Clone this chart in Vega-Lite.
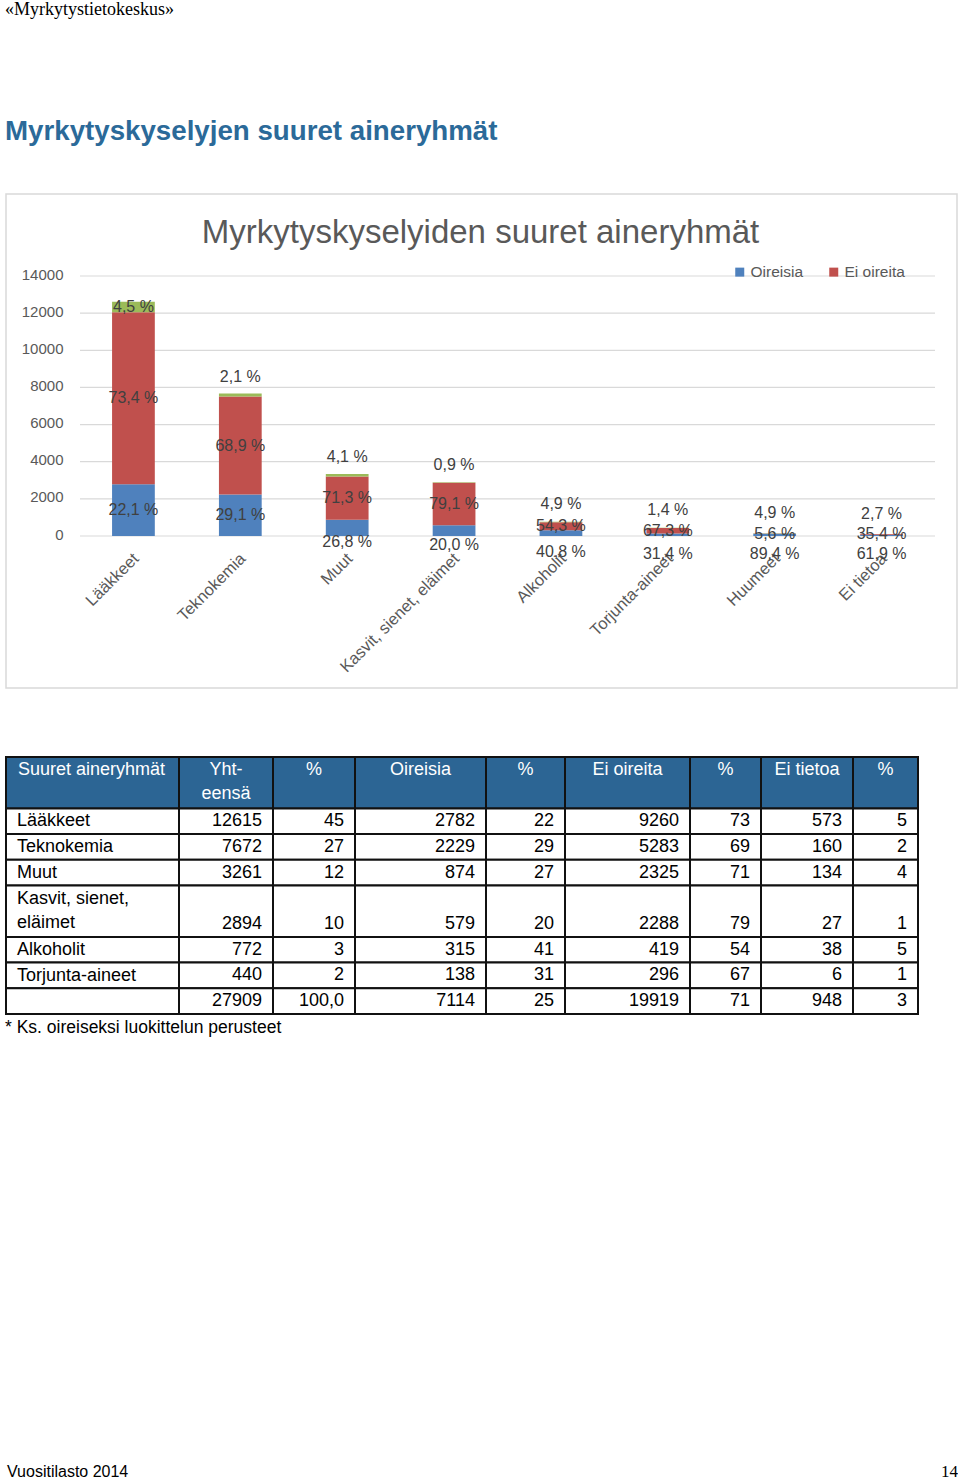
{
  "$schema": "https://vega.github.io/schema/vega-lite/v6.json",
  "background": "white",
  "padding": {"left": 5, "top": 0, "right": 0, "bottom": 0},
  "config": {"view": {"stroke": null}, "font": "Liberation Sans"},
  "title": {
    "text": "«Myrkytystietokeskus»",
    "subtitle": "Myrkytyskyselyjen suuret aineryhmät",
    "anchor": "start",
    "font": "Liberation Serif",
    "fontSize": 18,
    "fontWeight": "normal",
    "color": "#000000",
    "subtitleFont": "Liberation Sans",
    "subtitleFontSize": 27.7,
    "subtitleFontWeight": "bold",
    "subtitleColor": "#2b6a99",
    "subtitlePadding": 99,
    "offset": 48
  },
  "datasets": {
    "table": [
      {"r0": 0, "r1": 2, "c1": "Suuret aineryhmät", "c2": ["Yht-", "eensä"], "c3": "%", "c4": "Oireisia", "c5": "%", "c6": "Ei oireita", "c7": "%", "c8": "Ei tietoa", "c9": "%"},
      {"r0": 2, "r1": 3, "c1": "Lääkkeet", "c2": "12615", "c3": "45", "c4": "2782", "c5": "22", "c6": "9260", "c7": "73", "c8": "573", "c9": "5"},
      {"r0": 3, "r1": 4, "c1": "Teknokemia", "c2": "7672", "c3": "27", "c4": "2229", "c5": "29", "c6": "5283", "c7": "69", "c8": "160", "c9": "2"},
      {"r0": 4, "r1": 5, "c1": "Muut", "c2": "3261", "c3": "12", "c4": "874", "c5": "27", "c6": "2325", "c7": "71", "c8": "134", "c9": "4"},
      {"r0": 5, "r1": 7, "c1": ["Kasvit, sienet,", "eläimet"], "c2": "2894", "c3": "10", "c4": "579", "c5": "20", "c6": "2288", "c7": "79", "c8": "27", "c9": "1"},
      {"r0": 7, "r1": 8, "c1": "Alkoholit", "c2": "772", "c3": "3", "c4": "315", "c5": "41", "c6": "419", "c7": "54", "c8": "38", "c9": "5"},
      {"r0": 8, "r1": 9, "c1": "Torjunta-aineet", "c2": "440", "c3": "2", "c4": "138", "c5": "31", "c6": "296", "c7": "67", "c8": "6", "c9": "1"},
      {"r0": 9, "r1": 10, "c1": "", "c2": "27909", "c3": "100,0", "c4": "7114", "c5": "25", "c6": "19919", "c7": "71", "c8": "948", "c9": "3"}
    ]
  },
  "spacing": 67,
  "vconcat": [
    {
      "width": 951,
      "height": 494,
      "view": {"stroke": "#d9d9d9", "strokeWidth": 1.5},
      "data": {"values": [
        {"category": "Lääkkeet", "series": "Oireisia", "k": 1, "value": 2782, "label": "22,1 %"},
        {"category": "Lääkkeet", "series": "Ei oireita", "k": 2, "value": 9260, "label": "73,4 %"},
        {"category": "Lääkkeet", "series": "Ei tietoa", "k": 3, "value": 573, "label": "4,5 %"},
        {"category": "Teknokemia", "series": "Oireisia", "k": 1, "value": 2229, "label": "29,1 %"},
        {"category": "Teknokemia", "series": "Ei oireita", "k": 2, "value": 5283, "label": "68,9 %"},
        {"category": "Teknokemia", "series": "Ei tietoa", "k": 3, "value": 160, "label": "2,1 %"},
        {"category": "Muut", "series": "Oireisia", "k": 1, "value": 874, "label": "26,8 %"},
        {"category": "Muut", "series": "Ei oireita", "k": 2, "value": 2325, "label": "71,3 %"},
        {"category": "Muut", "series": "Ei tietoa", "k": 3, "value": 134, "label": "4,1 %"},
        {"category": "Kasvit, sienet, eläimet", "series": "Oireisia", "k": 1, "value": 579, "label": "20,0 %"},
        {"category": "Kasvit, sienet, eläimet", "series": "Ei oireita", "k": 2, "value": 2288, "label": "79,1 %"},
        {"category": "Kasvit, sienet, eläimet", "series": "Ei tietoa", "k": 3, "value": 27, "label": "0,9 %"},
        {"category": "Alkoholit", "series": "Oireisia", "k": 1, "value": 315, "label": "40,8 %"},
        {"category": "Alkoholit", "series": "Ei oireita", "k": 2, "value": 419, "label": "54,3 %"},
        {"category": "Alkoholit", "series": "Ei tietoa", "k": 3, "value": 38, "label": "4,9 %"},
        {"category": "Torjunta-aineet", "series": "Oireisia", "k": 1, "value": 138, "label": "31,4 %"},
        {"category": "Torjunta-aineet", "series": "Ei oireita", "k": 2, "value": 296, "label": "67,3 %"},
        {"category": "Torjunta-aineet", "series": "Ei tietoa", "k": 3, "value": 6, "label": "1,4 %"},
        {"category": "Huumeet", "series": "Oireisia", "k": 1, "value": 127, "label": "89,4 %"},
        {"category": "Huumeet", "series": "Ei oireita", "k": 2, "value": 8, "label": "5,6 %"},
        {"category": "Huumeet", "series": "Ei tietoa", "k": 3, "value": 7, "label": "4,9 %"},
        {"category": "Ei tietoa", "series": "Oireisia", "k": 1, "value": 70, "label": "61,9 %"},
        {"category": "Ei tietoa", "series": "Ei oireita", "k": 2, "value": 40, "label": "35,4 %"},
        {"category": "Ei tietoa", "series": "Ei tietoa", "k": 3, "value": 3, "label": "2,7 %"}
      ]},
      "title": {
        "text": "Myrkytyskyselyiden suuret aineryhmät",
        "fontSize": 33,
        "fontWeight": "normal",
        "font": "Liberation Sans",
        "color": "#595959",
        "anchor": "middle",
        "frame": "group",
        "dx": -1,
        "offset": -56
      },
      "resolve": {"scale": {"x": "independent"}},
      "layer": [
        {
          "data": {"values": [{"tick": 0}, {"tick": 2000}, {"tick": 4000}, {"tick": 6000}, {"tick": 8000}, {"tick": 10000}, {"tick": 12000}, {"tick": 14000}]},
          "mark": {"type": "rule", "color": "#d9d9d9", "strokeWidth": 1.2},
          "encoding": {
            "x": {"datum": 0, "type": "quantitative", "scale": {"domain": [0, 1], "range": [74, 929]}, "axis": null},
            "x2": {"datum": 1},
            "y": {"field": "tick", "type": "quantitative", "scale": {"domain": [0, 14000], "range": [342, 82]},
                  "axis": {"title": null, "values": [0, 2000, 4000, 6000, 8000, 10000, 12000, 14000], "format": "d", "grid": false, "domain": false, "ticks": false, "labelOverlap": false, "labelPadding": 0, "offset": -57, "labelOffset": -2, "labelFontSize": 15, "labelColor": "#595959", "labelFont": "Liberation Sans"}}
          }
        },
        {
          "layer": [
            {
              "mark": {"type": "bar"},
              "encoding": {
                "x": {
                  "field": "category", "type": "nominal", "sort": null,
                  "scale": {"domain": ["Lääkkeet", "Teknokemia", "Muut", "Kasvit, sienet, eläimet", "Alkoholit", "Torjunta-aineet", "Huumeet", "Ei tietoa"], "range": [74, 929], "paddingInner": 0.6, "paddingOuter": 0.3},
                  "axis": {"title": null, "offset": -152, "labelAngle": -45, "labelAlign": "right", "labelBaseline": "top", "labelPadding": 14, "labelOffset": -3, "domain": false, "ticks": false, "labelFontSize": 16.5, "labelColor": "#595959", "labelFont": "Liberation Sans", "labelLimit": 0}
                },
                "y": {
                  "field": "value", "type": "quantitative", "stack": "zero",
                  "scale": {"domain": [0, 14000], "range": [342, 82]},
                  "axis": {"title": null, "values": [0, 2000, 4000, 6000, 8000, 10000, 12000, 14000], "format": "d", "grid": false, "domain": false, "ticks": false, "labelOverlap": false, "labelPadding": 0, "offset": -57, "labelOffset": -2, "labelFontSize": 15, "labelColor": "#595959", "labelFont": "Liberation Sans"}
                },
                "color": {
                  "field": "series", "type": "nominal",
                  "scale": {"domain": ["Oireisia", "Ei oireita", "Ei tietoa"], "range": ["#4F81BD", "#C0504D", "#9BBB59"]},
                  "legend": {"title": null, "values": ["Oireisia", "Ei oireita"], "orient": "none", "legendX": 726, "legendY": 70, "direction": "horizontal", "symbolType": "square", "symbolSize": 81, "symbolStrokeWidth": 0, "labelFontSize": 15.5, "labelColor": "#595959", "labelFont": "Liberation Sans", "columnPadding": 22, "labelOffset": 3, "padding": 0}
                },
                "order": {"field": "k", "type": "quantitative", "sort": "ascending"}
              }
            },
            {
              "transform": [
                {"stack": "value", "groupby": ["category"], "sort": [{"field": "k", "order": "ascending"}], "as": ["s0", "s1"]},
                {"fold": ["s0", "s1"], "as": ["edge", "pos"]},
                {"aggregate": [{"op": "mean", "field": "pos", "as": "mid"}], "groupby": ["category", "series", "label"]}
              ],
              "encoding": {
                "x": {"field": "category", "type": "nominal", "sort": null,
                      "scale": {"domain": ["Lääkkeet", "Teknokemia", "Muut", "Kasvit, sienet, eläimet", "Alkoholit", "Torjunta-aineet", "Huumeet", "Ei tietoa"], "range": [74, 929], "paddingInner": 0.6, "paddingOuter": 0.3},
                      "axis": {"title": null, "offset": -152, "labelAngle": -45, "labelAlign": "right", "labelBaseline": "top", "labelPadding": 14, "labelOffset": -3, "domain": false, "ticks": false, "labelFontSize": 16.5, "labelColor": "#595959", "labelFont": "Liberation Sans", "labelLimit": 0}},
                "y": {"field": "mid", "type": "quantitative", "scale": {"domain": [0, 14000], "range": [342, 82]},
                      "axis": {"title": null, "values": [0, 2000, 4000, 6000, 8000, 10000, 12000, 14000], "format": "d", "grid": false, "domain": false, "ticks": false, "labelOverlap": false, "labelPadding": 0, "offset": -57, "labelOffset": -2, "labelFontSize": 15, "labelColor": "#595959", "labelFont": "Liberation Sans"}},
                "text": {"field": "label", "type": "nominal"}
              },
              "layer": [
                {
                  "transform": [{"filter": {"or": [{"field": "series", "equal": "Ei oireita"}, {"field": "category", "equal": "Lääkkeet"}, {"and": [{"field": "series", "equal": "Oireisia"}, {"field": "category", "equal": "Teknokemia"}]}]}}],
                  "mark": {"type": "text", "fontSize": 16, "color": "#404040", "font": "Liberation Sans"}
                },
                {
                  "transform": [{"filter": {"and": [{"field": "series", "equal": "Oireisia"}, {"field": "category", "oneOf": ["Muut", "Kasvit, sienet, eläimet"]}]}}],
                  "mark": {"type": "text", "fontSize": 16, "color": "#404040", "font": "Liberation Sans", "dy": 14}
                },
                {
                  "transform": [{"filter": {"and": [{"field": "series", "equal": "Oireisia"}, {"field": "category", "oneOf": ["Alkoholit", "Torjunta-aineet", "Huumeet", "Ei tietoa"]}]}}],
                  "mark": {"type": "text", "fontSize": 16, "color": "#404040", "font": "Liberation Sans", "dy": 19}
                },
                {
                  "transform": [{"filter": {"and": [{"field": "series", "equal": "Ei tietoa"}, {"field": "category", "oneOf": ["Teknokemia", "Muut", "Kasvit, sienet, eläimet", "Alkoholit", "Torjunta-aineet"]}]}}],
                  "mark": {"type": "text", "fontSize": 16, "color": "#404040", "font": "Liberation Sans", "dy": -18}
                },
                {
                  "transform": [{"filter": {"and": [{"field": "series", "equal": "Ei tietoa"}, {"field": "category", "oneOf": ["Huumeet", "Ei tietoa"]}]}}],
                  "mark": {"type": "text", "fontSize": 16, "color": "#404040", "font": "Liberation Sans", "dy": -20}
                }
              ]
            }
          ]
        }
      ]
    },
    {
      "spacing": 0,
      "bounds": "flush",
      "title": {"text": "* Ks. oireiseksi luokittelun perusteet", "orient": "bottom", "anchor": "start", "fontSize": 17.5, "fontWeight": "normal", "color": "#000000", "font": "Liberation Sans", "offset": 4},
      "hconcat": [
        {
          "width": 173, "height": 257, "data": {"name": "table"},
          "layer": [
            {"mark": {"type": "rect", "stroke": "#111111", "strokeWidth": 2},
             "encoding": {
               "x": {"datum": 0, "type": "quantitative", "scale": {"domain": [0, 1]}, "axis": null}, "x2": {"datum": 1},
               "y": {"field": "r0", "type": "quantitative", "scale": {"domain": [0, 10], "reverse": true}, "axis": null}, "y2": {"field": "r1"},
               "fill": {"condition": {"test": "datum.r0 == 0", "value": "#2c6594"}, "value": "#ffffff"}}},
            {"transform": [{"filter": "datum.r0 == 0"}],
             "mark": {"type": "text", "align": "left", "baseline": "top", "dx": 12, "dy": 4, "fontSize": 18, "lineHeight": 24, "color": "#ffffff", "font": "Liberation Sans"},
             "encoding": {"x": {"datum": 0, "type": "quantitative"}, "y": {"field": "r0", "type": "quantitative"}, "text": {"field": "c1", "type": "nominal"}}},
            {"transform": [{"filter": "datum.r0 > 0"}],
             "mark": {"type": "text", "align": "left", "baseline": "top", "dx": 11, "dy": 4, "fontSize": 18, "lineHeight": 24, "color": "#000000", "font": "Liberation Sans"},
             "encoding": {"x": {"datum": 0, "type": "quantitative"}, "y": {"field": "r0", "type": "quantitative"}, "text": {"field": "c1", "type": "nominal"}}}
          ]
        },
        {
          "width": 94, "height": 257, "data": {"name": "table"},
          "layer": [
            {"mark": {"type": "rect", "stroke": "#111111", "strokeWidth": 2},
             "encoding": {
               "x": {"datum": 0, "type": "quantitative", "scale": {"domain": [0, 1]}, "axis": null}, "x2": {"datum": 1},
               "y": {"field": "r0", "type": "quantitative", "scale": {"domain": [0, 10], "reverse": true}, "axis": null}, "y2": {"field": "r1"},
               "fill": {"condition": {"test": "datum.r0 == 0", "value": "#2c6594"}, "value": "#ffffff"}}},
            {"transform": [{"filter": "datum.r0 == 0"}],
             "mark": {"type": "text", "align": "center", "baseline": "top", "dy": 4, "fontSize": 18, "lineHeight": 24, "color": "#ffffff", "font": "Liberation Sans"},
             "encoding": {"x": {"datum": 0.5, "type": "quantitative"}, "y": {"field": "r0", "type": "quantitative"}, "text": {"field": "c2", "type": "nominal"}}},
            {"transform": [{"filter": "datum.r0 > 0"}],
             "mark": {"type": "text", "align": "right", "baseline": "bottom", "dx": -11, "dy": -4, "fontSize": 18, "lineHeight": 24, "color": "#000000", "font": "Liberation Sans"},
             "encoding": {"x": {"datum": 1, "type": "quantitative"}, "y": {"field": "r1", "type": "quantitative"}, "text": {"field": "c2", "type": "nominal"}}}
          ]
        },
        {
          "width": 82, "height": 257, "data": {"name": "table"},
          "layer": [
            {"mark": {"type": "rect", "stroke": "#111111", "strokeWidth": 2},
             "encoding": {
               "x": {"datum": 0, "type": "quantitative", "scale": {"domain": [0, 1]}, "axis": null}, "x2": {"datum": 1},
               "y": {"field": "r0", "type": "quantitative", "scale": {"domain": [0, 10], "reverse": true}, "axis": null}, "y2": {"field": "r1"},
               "fill": {"condition": {"test": "datum.r0 == 0", "value": "#2c6594"}, "value": "#ffffff"}}},
            {"transform": [{"filter": "datum.r0 == 0"}],
             "mark": {"type": "text", "align": "center", "baseline": "top", "dy": 4, "fontSize": 18, "lineHeight": 24, "color": "#ffffff", "font": "Liberation Sans"},
             "encoding": {"x": {"datum": 0.5, "type": "quantitative"}, "y": {"field": "r0", "type": "quantitative"}, "text": {"field": "c3", "type": "nominal"}}},
            {"transform": [{"filter": "datum.r0 > 0"}],
             "mark": {"type": "text", "align": "right", "baseline": "bottom", "dx": -11, "dy": -4, "fontSize": 18, "lineHeight": 24, "color": "#000000", "font": "Liberation Sans"},
             "encoding": {"x": {"datum": 1, "type": "quantitative"}, "y": {"field": "r1", "type": "quantitative"}, "text": {"field": "c3", "type": "nominal"}}}
          ]
        },
        {
          "width": 131, "height": 257, "data": {"name": "table"},
          "layer": [
            {"mark": {"type": "rect", "stroke": "#111111", "strokeWidth": 2},
             "encoding": {
               "x": {"datum": 0, "type": "quantitative", "scale": {"domain": [0, 1]}, "axis": null}, "x2": {"datum": 1},
               "y": {"field": "r0", "type": "quantitative", "scale": {"domain": [0, 10], "reverse": true}, "axis": null}, "y2": {"field": "r1"},
               "fill": {"condition": {"test": "datum.r0 == 0", "value": "#2c6594"}, "value": "#ffffff"}}},
            {"transform": [{"filter": "datum.r0 == 0"}],
             "mark": {"type": "text", "align": "center", "baseline": "top", "dy": 4, "fontSize": 18, "lineHeight": 24, "color": "#ffffff", "font": "Liberation Sans"},
             "encoding": {"x": {"datum": 0.5, "type": "quantitative"}, "y": {"field": "r0", "type": "quantitative"}, "text": {"field": "c4", "type": "nominal"}}},
            {"transform": [{"filter": "datum.r0 > 0"}],
             "mark": {"type": "text", "align": "right", "baseline": "bottom", "dx": -11, "dy": -4, "fontSize": 18, "lineHeight": 24, "color": "#000000", "font": "Liberation Sans"},
             "encoding": {"x": {"datum": 1, "type": "quantitative"}, "y": {"field": "r1", "type": "quantitative"}, "text": {"field": "c4", "type": "nominal"}}}
          ]
        },
        {
          "width": 79, "height": 257, "data": {"name": "table"},
          "layer": [
            {"mark": {"type": "rect", "stroke": "#111111", "strokeWidth": 2},
             "encoding": {
               "x": {"datum": 0, "type": "quantitative", "scale": {"domain": [0, 1]}, "axis": null}, "x2": {"datum": 1},
               "y": {"field": "r0", "type": "quantitative", "scale": {"domain": [0, 10], "reverse": true}, "axis": null}, "y2": {"field": "r1"},
               "fill": {"condition": {"test": "datum.r0 == 0", "value": "#2c6594"}, "value": "#ffffff"}}},
            {"transform": [{"filter": "datum.r0 == 0"}],
             "mark": {"type": "text", "align": "center", "baseline": "top", "dy": 4, "fontSize": 18, "lineHeight": 24, "color": "#ffffff", "font": "Liberation Sans"},
             "encoding": {"x": {"datum": 0.5, "type": "quantitative"}, "y": {"field": "r0", "type": "quantitative"}, "text": {"field": "c5", "type": "nominal"}}},
            {"transform": [{"filter": "datum.r0 > 0"}],
             "mark": {"type": "text", "align": "right", "baseline": "bottom", "dx": -11, "dy": -4, "fontSize": 18, "lineHeight": 24, "color": "#000000", "font": "Liberation Sans"},
             "encoding": {"x": {"datum": 1, "type": "quantitative"}, "y": {"field": "r1", "type": "quantitative"}, "text": {"field": "c5", "type": "nominal"}}}
          ]
        },
        {
          "width": 125, "height": 257, "data": {"name": "table"},
          "layer": [
            {"mark": {"type": "rect", "stroke": "#111111", "strokeWidth": 2},
             "encoding": {
               "x": {"datum": 0, "type": "quantitative", "scale": {"domain": [0, 1]}, "axis": null}, "x2": {"datum": 1},
               "y": {"field": "r0", "type": "quantitative", "scale": {"domain": [0, 10], "reverse": true}, "axis": null}, "y2": {"field": "r1"},
               "fill": {"condition": {"test": "datum.r0 == 0", "value": "#2c6594"}, "value": "#ffffff"}}},
            {"transform": [{"filter": "datum.r0 == 0"}],
             "mark": {"type": "text", "align": "center", "baseline": "top", "dy": 4, "fontSize": 18, "lineHeight": 24, "color": "#ffffff", "font": "Liberation Sans"},
             "encoding": {"x": {"datum": 0.5, "type": "quantitative"}, "y": {"field": "r0", "type": "quantitative"}, "text": {"field": "c6", "type": "nominal"}}},
            {"transform": [{"filter": "datum.r0 > 0"}],
             "mark": {"type": "text", "align": "right", "baseline": "bottom", "dx": -11, "dy": -4, "fontSize": 18, "lineHeight": 24, "color": "#000000", "font": "Liberation Sans"},
             "encoding": {"x": {"datum": 1, "type": "quantitative"}, "y": {"field": "r1", "type": "quantitative"}, "text": {"field": "c6", "type": "nominal"}}}
          ]
        },
        {
          "width": 71, "height": 257, "data": {"name": "table"},
          "layer": [
            {"mark": {"type": "rect", "stroke": "#111111", "strokeWidth": 2},
             "encoding": {
               "x": {"datum": 0, "type": "quantitative", "scale": {"domain": [0, 1]}, "axis": null}, "x2": {"datum": 1},
               "y": {"field": "r0", "type": "quantitative", "scale": {"domain": [0, 10], "reverse": true}, "axis": null}, "y2": {"field": "r1"},
               "fill": {"condition": {"test": "datum.r0 == 0", "value": "#2c6594"}, "value": "#ffffff"}}},
            {"transform": [{"filter": "datum.r0 == 0"}],
             "mark": {"type": "text", "align": "center", "baseline": "top", "dy": 4, "fontSize": 18, "lineHeight": 24, "color": "#ffffff", "font": "Liberation Sans"},
             "encoding": {"x": {"datum": 0.5, "type": "quantitative"}, "y": {"field": "r0", "type": "quantitative"}, "text": {"field": "c7", "type": "nominal"}}},
            {"transform": [{"filter": "datum.r0 > 0"}],
             "mark": {"type": "text", "align": "right", "baseline": "bottom", "dx": -11, "dy": -4, "fontSize": 18, "lineHeight": 24, "color": "#000000", "font": "Liberation Sans"},
             "encoding": {"x": {"datum": 1, "type": "quantitative"}, "y": {"field": "r1", "type": "quantitative"}, "text": {"field": "c7", "type": "nominal"}}}
          ]
        },
        {
          "width": 92, "height": 257, "data": {"name": "table"},
          "layer": [
            {"mark": {"type": "rect", "stroke": "#111111", "strokeWidth": 2},
             "encoding": {
               "x": {"datum": 0, "type": "quantitative", "scale": {"domain": [0, 1]}, "axis": null}, "x2": {"datum": 1},
               "y": {"field": "r0", "type": "quantitative", "scale": {"domain": [0, 10], "reverse": true}, "axis": null}, "y2": {"field": "r1"},
               "fill": {"condition": {"test": "datum.r0 == 0", "value": "#2c6594"}, "value": "#ffffff"}}},
            {"transform": [{"filter": "datum.r0 == 0"}],
             "mark": {"type": "text", "align": "center", "baseline": "top", "dy": 4, "fontSize": 18, "lineHeight": 24, "color": "#ffffff", "font": "Liberation Sans"},
             "encoding": {"x": {"datum": 0.5, "type": "quantitative"}, "y": {"field": "r0", "type": "quantitative"}, "text": {"field": "c8", "type": "nominal"}}},
            {"transform": [{"filter": "datum.r0 > 0"}],
             "mark": {"type": "text", "align": "right", "baseline": "bottom", "dx": -11, "dy": -4, "fontSize": 18, "lineHeight": 24, "color": "#000000", "font": "Liberation Sans"},
             "encoding": {"x": {"datum": 1, "type": "quantitative"}, "y": {"field": "r1", "type": "quantitative"}, "text": {"field": "c8", "type": "nominal"}}}
          ]
        },
        {
          "width": 65, "height": 257, "data": {"name": "table"},
          "layer": [
            {"mark": {"type": "rect", "stroke": "#111111", "strokeWidth": 2},
             "encoding": {
               "x": {"datum": 0, "type": "quantitative", "scale": {"domain": [0, 1]}, "axis": null}, "x2": {"datum": 1},
               "y": {"field": "r0", "type": "quantitative", "scale": {"domain": [0, 10], "reverse": true}, "axis": null}, "y2": {"field": "r1"},
               "fill": {"condition": {"test": "datum.r0 == 0", "value": "#2c6594"}, "value": "#ffffff"}}},
            {"transform": [{"filter": "datum.r0 == 0"}],
             "mark": {"type": "text", "align": "center", "baseline": "top", "dy": 4, "fontSize": 18, "lineHeight": 24, "color": "#ffffff", "font": "Liberation Sans"},
             "encoding": {"x": {"datum": 0.5, "type": "quantitative"}, "y": {"field": "r0", "type": "quantitative"}, "text": {"field": "c9", "type": "nominal"}}},
            {"transform": [{"filter": "datum.r0 > 0"}],
             "mark": {"type": "text", "align": "right", "baseline": "bottom", "dx": -11, "dy": -4, "fontSize": 18, "lineHeight": 24, "color": "#000000", "font": "Liberation Sans"},
             "encoding": {"x": {"datum": 1, "type": "quantitative"}, "y": {"field": "r1", "type": "quantitative"}, "text": {"field": "c9", "type": "nominal"}}}
          ]
        }
      ]
    },
    {
      "width": 952,
      "height": 373,
      "layer": [
        {
          "data": {"values": [{"t": "Vuositilasto 2014"}]},
          "mark": {"type": "text", "align": "left", "baseline": "alphabetic", "fontSize": 16, "font": "Liberation Sans", "color": "#000000", "dx": 1},
          "encoding": {
            "x": {"datum": 0, "type": "quantitative", "scale": {"domain": [0, 1]}, "axis": null},
            "y": {"datum": 0, "type": "quantitative", "scale": {"domain": [0, 1]}, "axis": null},
            "text": {"field": "t", "type": "nominal"}
          }
        },
        {
          "data": {"values": [{"t": "14"}]},
          "mark": {"type": "text", "align": "right", "baseline": "alphabetic", "fontSize": 17, "font": "Liberation Serif", "color": "#000000"},
          "encoding": {
            "x": {"datum": 1, "type": "quantitative", "scale": {"domain": [0, 1]}, "axis": null},
            "y": {"datum": 0, "type": "quantitative", "scale": {"domain": [0, 1]}, "axis": null},
            "text": {"field": "t", "type": "nominal"}
          }
        }
      ]
    }
  ]
}
